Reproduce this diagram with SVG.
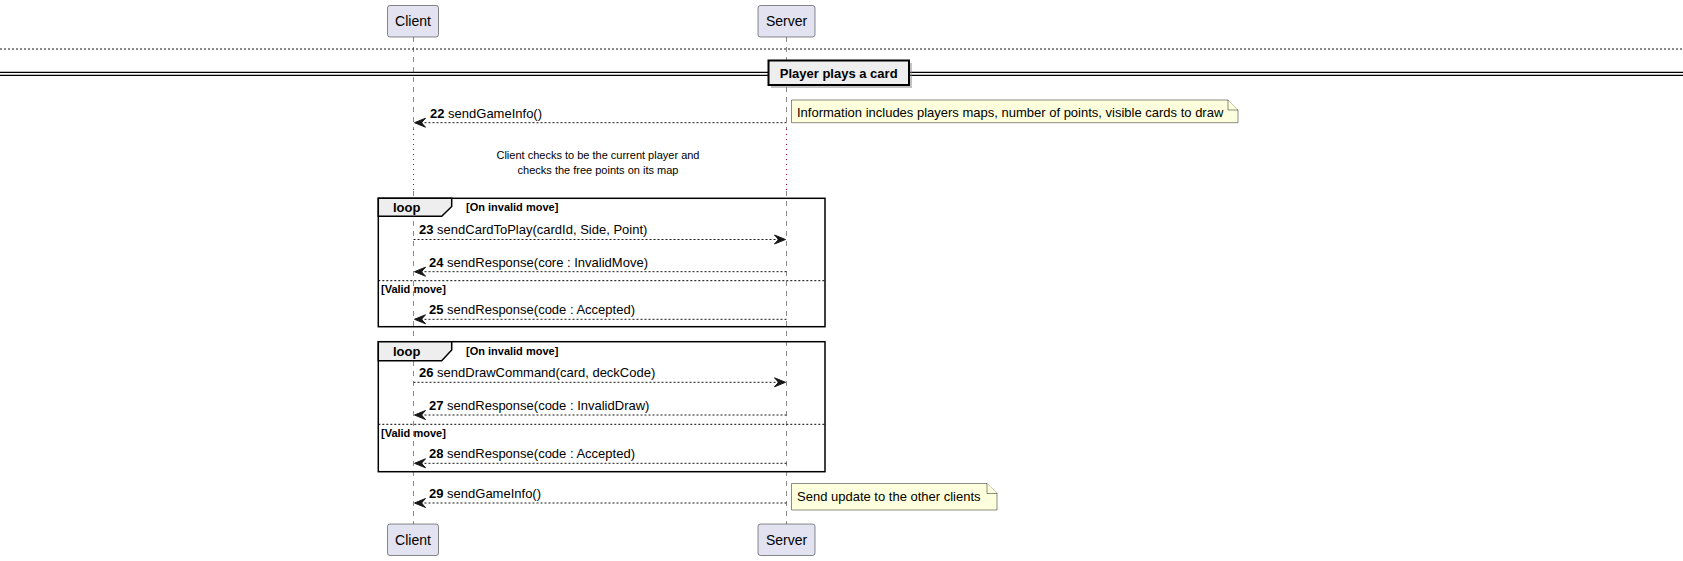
<svg xmlns="http://www.w3.org/2000/svg" width="1683" height="561" viewBox="0 0 1683 561">
<style>
text{font-family:"Liberation Sans",Arial,sans-serif;fill:#000}
.part rect{fill:#E2E2F0;stroke:#181818;stroke-width:0.5}
.pt{font-size:14px;text-anchor:middle}
.life{stroke:#181818;stroke-width:0.5;stroke-dasharray:5,5;fill:none}
.delay{stroke:#A80036;stroke-width:1;stroke-dasharray:1,4;fill:none}
.msg{stroke:#181818;stroke-width:1;stroke-dasharray:2,2;fill:none}
.mt{font-size:13px}
.num{font-weight:bold}
.note{fill:#FEFFDD;stroke:#181818;stroke-width:0.5}
.frame{fill:none;stroke:#000;stroke-width:1.5}
.tab{fill:#EEEEEE;stroke:#000;stroke-width:1.5}
.sep{stroke:#000;stroke-width:1;stroke-dasharray:2,2}
.gl{font-size:13px;font-weight:bold}
.gc{font-size:11px;font-weight:bold}
</style>
<defs>
<marker id="ar" viewBox="-1 -1 13 11" refX="11" refY="4.5" markerWidth="13" markerHeight="11" markerUnits="userSpaceOnUse" orient="auto">
<polygon points="0,0 11,4.5 0,9 4,4.5" fill="#181818" stroke="#181818" stroke-width="1" stroke-linejoin="miter"/>
</marker>
</defs>

<g id="lifelines">
<path class="life" d="M413.5,37 V129 M413.5,191 V524"/>
<path class="life" d="M786.5,37 V129 M786.5,191 V524"/>
<path class="delay" d="M413.5,129 V191 M786.5,129 V191"/>
</g>

<g id="top-separators">
<line x1="0" y1="49" x2="1683" y2="49" stroke="#181818" stroke-width="1" stroke-dasharray="2,2"/>
<path d="M0,72.3 H768 M0,75.3 H768 M909,72.3 H1683 M909,75.3 H1683" stroke="#000" stroke-width="1.3" fill="none"/>
</g>
<g id="divider">
<rect x="771" y="63" width="141" height="25" fill="#888" opacity="0.5"/>
<rect x="768.5" y="60.5" width="140.5" height="24.5" fill="#EEEEEE" stroke="#000" stroke-width="2"/>
<text x="838.7" y="78" class="gl" text-anchor="middle">Player plays a card</text>
</g>

<g id="participant-client-top" class="part">
<rect x="387.5" y="5.5" width="51" height="31.5" rx="2.5"/>
<text x="413" y="26" class="pt">Client</text>
</g>
<g id="participant-server-top" class="part">
<rect x="758" y="5.5" width="57" height="31.5" rx="2.5"/>
<text x="786.5" y="26" class="pt">Server</text>
</g>
<g id="participant-client-bottom" class="part">
<rect x="387.5" y="524" width="51" height="31.5" rx="2.5"/>
<text x="413" y="545" class="pt">Client</text>
</g>
<g id="participant-server-bottom" class="part">
<rect x="758" y="524" width="57" height="31.5" rx="2.5"/>
<text x="786.5" y="545" class="pt">Server</text>
</g>

<g id="note-1">
<path class="note" d="M791.5,100 H1228 L1238,110 V122.7 H791.5 Z"/>
<path class="note" d="M1228,100 V110 H1238" fill="none"/>
<text x="797" y="117" class="mt">Information includes players maps, number of points, visible cards to draw</text>
</g>

<g id="delay-text">
<text x="598" y="159" font-size="11" text-anchor="middle">Client checks to be the current player and</text>
<text x="598" y="174" font-size="11" text-anchor="middle">checks the free points on its map</text>
</g>

<g id="loop-1">
<rect class="frame" x="378.3" y="198.3" width="446.7" height="128.4"/>
<path class="tab" d="M378.3,198.3 H451.7 V206.5 L441.7,216.3 H378.3 Z"/>
<text x="393" y="212" class="gl">loop</text>
<text x="466" y="211" class="gc">[On invalid move]</text>
<line class="sep" x1="378.3" y1="280.7" x2="825" y2="280.7"/>
<text x="381" y="293" class="gc">[Valid move]</text>
</g>

<g id="loop-2">
<rect class="frame" x="378.3" y="341.7" width="446.7" height="130"/>
<path class="tab" d="M378.3,341.7 H451.7 V350 L441.7,360.7 H378.3 Z"/>
<text x="393" y="355.5" class="gl">loop</text>
<text x="466" y="354.5" class="gc">[On invalid move]</text>
<line class="sep" x1="378.3" y1="424.3" x2="825" y2="424.3"/>
<text x="381" y="436.5" class="gc">[Valid move]</text>
</g>

<g id="connectors">
<line class="msg" x1="786.5" y1="122.7" x2="414.5" y2="122.7" marker-end="url(#ar)"/>
<line class="msg" x1="413.5" y1="239.5" x2="785.5" y2="239.5" marker-end="url(#ar)"/>
<line class="msg" x1="786.5" y1="271.7" x2="414.5" y2="271.7" marker-end="url(#ar)"/>
<line class="msg" x1="786.5" y1="319.3" x2="414.5" y2="319.3" marker-end="url(#ar)"/>
<line class="msg" x1="413.5" y1="382.3" x2="785.5" y2="382.3" marker-end="url(#ar)"/>
<line class="msg" x1="786.5" y1="415" x2="414.5" y2="415" marker-end="url(#ar)"/>
<line class="msg" x1="786.5" y1="463.3" x2="414.5" y2="463.3" marker-end="url(#ar)"/>
<line class="msg" x1="786.5" y1="503" x2="414.5" y2="503" marker-end="url(#ar)"/>
</g>

<g id="labels">
<text x="430" y="117.5" class="mt"><tspan class="num">22</tspan> sendGameInfo()</text>
<text x="419" y="234" class="mt"><tspan class="num">23</tspan> sendCardToPlay(cardId, Side, Point)</text>
<text x="429" y="266.5" class="mt"><tspan class="num">24</tspan> sendResponse(core : InvalidMove)</text>
<text x="429" y="314" class="mt"><tspan class="num">25</tspan> sendResponse(code : Accepted)</text>
<text x="419" y="377" class="mt"><tspan class="num">26</tspan> sendDrawCommand(card, deckCode)</text>
<text x="429" y="410" class="mt"><tspan class="num">27</tspan> sendResponse(code : InvalidDraw)</text>
<text x="429" y="458" class="mt"><tspan class="num">28</tspan> sendResponse(code : Accepted)</text>
<text x="429" y="498" class="mt"><tspan class="num">29</tspan> sendGameInfo()</text>
</g>

<g id="note-2">
<path class="note" d="M791.5,483.5 H987 L997,493.5 V510 H791.5 Z"/>
<path class="note" d="M987,483.5 V493.5 H997" fill="none"/>
<text x="797" y="501" class="mt">Send update to the other clients</text>
</g>
</svg>
